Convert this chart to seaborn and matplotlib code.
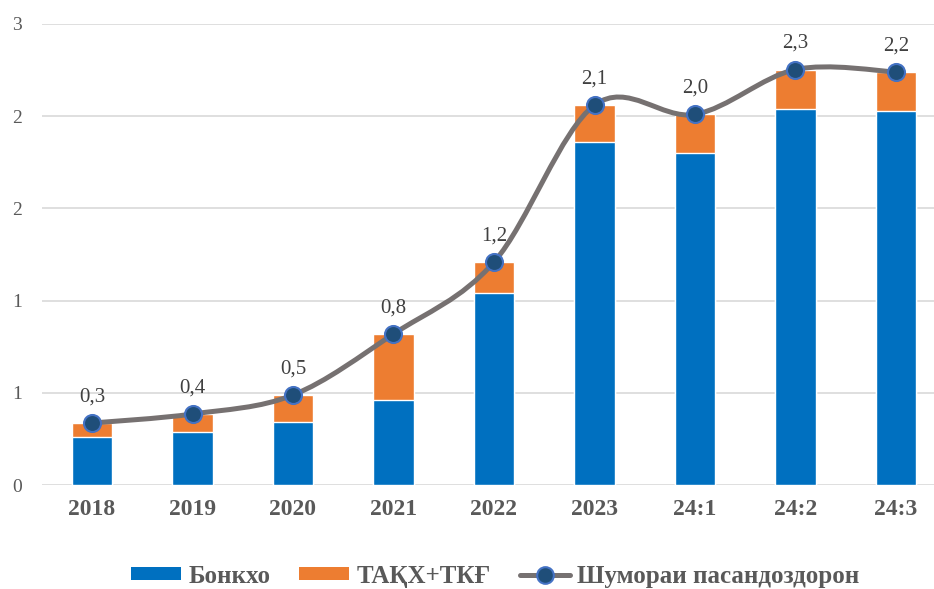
import numpy as np
import pandas as pd
import matplotlib
matplotlib.use("Agg")
import matplotlib.pyplot as plt
import seaborn as sns
from matplotlib.path import Path
from matplotlib.patches import PathPatch, Patch
from matplotlib.lines import Line2D

# ---- data ----
categories = ["2018", "2019", "2020", "2021", "2022", "2023", "24:1", "24:2", "24:3"]
banks = [0.26, 0.29, 0.34, 0.46, 1.04, 1.86, 1.80, 2.04, 2.03]
total_deposits = [0.336, 0.385, 0.488, 0.819, 1.209, 2.06, 2.01, 2.253, 2.24]  # Шумораи пасандоздорон
others = [t - b for t, b in zip(total_deposits, banks)]  # ТАҚХ+ТКҒ
ytick_values = [0, 0.5, 1.0, 1.5, 2.0, 2.5]
ytick_labels = ["0", "1", "1", "2", "2", "3"]
legend_labels = ["Бонкхо", "ТАҚХ+ТКҒ", "Шумораи пасандоздорон"]

BLUE = "#0070c0"
ORANGE = "#ed7d31"
LINE = "#767171"
TXT = "#595959"

sns.set_theme(style="white")
plt.rcParams["font.family"] = ["Liberation Serif", "DejaVu Serif"]

fig = plt.figure(figsize=(9.34, 5.89), dpi=100)
ax = fig.add_axes([41.75 / 934, 104 / 589, 904.5 / 934, 461 / 589])

df = pd.DataFrame({"cat": categories, "banks": banks, "total": total_deposits})

sns.barplot(data=df, x="cat", y="total", color=ORANGE, width=0.4, saturation=1,
            ax=ax, zorder=2)
sns.barplot(data=df, x="cat", y="banks", color=BLUE, width=0.4, saturation=1,
            ax=ax, zorder=3)

# smooth (Catmull-Rom style) line through the points
xs = np.arange(len(categories), dtype=float)
ys = np.array(total_deposits, dtype=float)
pts = np.column_stack([xs, ys])
verts = [pts[0]]
codes = [Path.MOVETO]
n = len(pts)
for i in range(n - 1):
    p0 = pts[max(i - 1, 0)]
    p1 = pts[i]
    p2 = pts[i + 1]
    p3 = pts[min(i + 2, n - 1)]
    c1 = p1 + (p2 - p0) / 6.0
    c2 = p2 - (p3 - p1) / 6.0
    verts += [c1, c2, p2]
    codes += [Path.CURVE4] * 3
path = Path(verts, codes)
ax.add_patch(PathPatch(path, facecolor="none", edgecolor=LINE, lw=3.6,
                       capstyle="round", joinstyle="round", zorder=4))

sns.scatterplot(x=xs, y=ys, s=150, color="#1f4e79", edgecolor="#4472c4",
                linewidth=1.5, ax=ax, zorder=5)

for x, y in zip(xs, ys):
    ax.text(x, y + 0.09, f"{y:.1f}".replace(".", ","), ha="center", va="bottom",
            fontsize=15, color="#404040", zorder=6)

ax.set_xlim(-0.5, len(categories) - 0.5)
ax.set_ylim(0, 2.5)
ax.set_yticks(ytick_values)
ax.set_yticklabels(ytick_labels)
ax.set_xlabel("")
ax.set_ylabel("")
ax.yaxis.grid(True, color="#d9d9d9", lw=1.2, zorder=0)
ax.xaxis.grid(False)
ax.set_axisbelow(True)
for s in ax.spines.values():
    s.set_visible(False)
ax.tick_params(axis="y", length=0, pad=14, labelsize=14, labelcolor=TXT)
ax.tick_params(axis="x", length=0, pad=10, labelsize=17, labelcolor=TXT)
for lab in ax.get_xticklabels():
    lab.set_fontweight("bold")

handles = [
    Patch(facecolor=BLUE, edgecolor="none"),
    Patch(facecolor=ORANGE, edgecolor="none"),
    Line2D([0], [0], color=LINE, lw=3.6, marker="o", markersize=12,
           markerfacecolor="#1f4e79", markeredgecolor="#4472c4", markeredgewidth=1.5),
]
leg = fig.legend(handles, legend_labels, loc="center", bbox_to_anchor=(0.53, 0.022),
                 ncol=3, frameon=False, handlelength=2.0, handleheight=0.45,
                 handletextpad=0.3, columnspacing=1.15,
                 prop={"size": 18, "weight": "bold"})
for t in leg.get_texts():
    t.set_color(TXT)

fig.savefig("out.png", dpi=100)
